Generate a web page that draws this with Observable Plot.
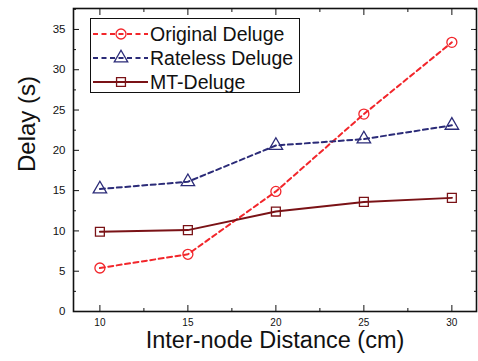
<!DOCTYPE html>
<html>
<head>
<meta charset="utf-8">
<script src="https://cdn.jsdelivr.net/npm/d3@7"></script>
<script src="https://cdn.jsdelivr.net/npm/@observablehq/plot@0.6"></script>
<style>
  html, body { margin: 0; padding: 0; background: #fff; }
  #wrap { position: relative; width: 478px; height: 361px; font-family: "Liberation Sans", Arial, sans-serif; }
  #legend { position: absolute; left: 90px; top: 18px; width: 210px; height: 75px; border: 1px solid #111; background: #fff; box-sizing: border-box; }
  .row { position: absolute; left: 0; height: 24px; display: flex; align-items: center; }
  .row span { font-size: 19.5px; color: #111; margin-left: 1px; }
</style>
</head>
<body>
<div id="wrap"></div>
<script>
const distances = [10, 15, 20, 25, 30];
const originalDeluge = [5.4, 7.1, 14.9, 24.5, 33.4];
const ratelessDeluge = [15.2, 16.1, 20.6, 21.4, 23.1];
const mtDeluge = [9.9, 10.1, 12.4, 13.6, 14.1];
const seriesNames = ["Original Deluge", "Rateless Deluge", "MT-Deluge"];
const seriesColors = ["#f2262b", "#2b2b78", "#7a1216"];
const seriesSymbols = ["circle", "triangle", "square"];
const seriesDash = ["5,3.5", "5,3.5", null];
const yMajor = [0, 5, 10, 15, 20, 25, 30, 35];
const yMinor = [2.5, 7.5, 12.5, 17.5, 22.5, 27.5, 32.5, 37.5];
const xMajor = [10, 15, 20, 25, 30];
const xMinor = [12.5, 17.5, 22.5, 27.5];

const seriesValues = [originalDeluge, ratelessDeluge, mtDeluge];
const rows = [];
seriesNames.forEach((name, i) => {
  distances.forEach((d, j) => rows.push({series: name, x: d, y: seriesValues[i][j]}));
});

const lineMarks = seriesNames.map((name, i) =>
  Plot.line(rows.filter(r => r.series === name), {
    x: "x", y: "y", stroke: seriesColors[i], strokeWidth: 2,
    strokeDasharray: seriesDash[i] || undefined
  })
);
const dotMarks = seriesNames.map((name, i) =>
  Plot.dot(rows.filter(r => r.series === name), {
    x: "x", y: "y", stroke: seriesColors[i], fill: "none", strokeWidth: 1.3,
    symbol: seriesSymbols[i], r: 5
  })
);

const empty = () => "";
const chart = Plot.plot({
  width: 478,
  height: 361,
  marginLeft: 73,
  marginRight: 2,
  marginTop: 8,
  marginBottom: 50,
  style: { fontFamily: "Liberation Sans, Arial, sans-serif", fontSize: "11px", color: "#111", background: "#fff" },
  x: { domain: [8.5, 31.4] },
  y: { domain: [0, 37.6] },
  marks: [
    Plot.axisY({ anchor: "left", ticks: yMajor, tickSize: -6, tickPadding: 14, label: null, fontSize: 11.5 }),
    Plot.axisY({ anchor: "left", ticks: yMinor, tickSize: -3, tickFormat: empty, label: null }),
    Plot.axisY({ anchor: "right", ticks: yMajor, tickSize: -6, tickFormat: empty, label: null }),
    Plot.axisY({ anchor: "right", ticks: yMinor, tickSize: -3, tickFormat: empty, label: null }),
    Plot.axisX({ anchor: "bottom", ticks: xMajor, tickSize: -6, tickPadding: 13, label: null, fontSize: 10 }),
    Plot.axisX({ anchor: "bottom", ticks: xMinor, tickSize: -3, tickFormat: empty, label: null }),
    Plot.axisX({ anchor: "top", ticks: xMajor, tickSize: -6, tickFormat: empty, label: null }),
    Plot.axisX({ anchor: "top", ticks: xMinor, tickSize: -3, tickFormat: empty, label: null }),
    Plot.frame({ stroke: "#111", strokeWidth: 1.6 }),
    ...lineMarks,
    ...dotMarks,
    Plot.text(["Inter-node Distance (cm)"], { frameAnchor: "bottom", dy: 36, text: d => d, fontSize: 23.5, fill: "#111" }),
    Plot.text(["Delay (s)"], { frameAnchor: "left", dx: -46, dy: 12, rotate: -90, text: d => d, fontSize: 24, fill: "#111" })
  ]
});

const wrap = document.getElementById("wrap");
wrap.appendChild(chart);

const legend = document.createElement("div");
legend.id = "legend";
const rowTops = [3, 27, 51];
seriesNames.forEach((name, i) => {
  const row = document.createElement("div");
  row.className = "row";
  row.style.top = rowTops[i] + "px";
  const ns = "http://www.w3.org/2000/svg";
  const svg = document.createElementNS(ns, "svg");
  svg.setAttribute("width", 58);
  svg.setAttribute("height", 24);
  const line = document.createElementNS(ns, "line");
  line.setAttribute("x1", 2); line.setAttribute("x2", 57);
  line.setAttribute("y1", 12); line.setAttribute("y2", 12);
  line.setAttribute("stroke", seriesColors[i]);
  line.setAttribute("stroke-width", 2);
  if (seriesDash[i]) line.setAttribute("stroke-dasharray", seriesDash[i]);
  svg.appendChild(line);
  const sym = document.createElementNS(ns, "path");
  const sz = Math.PI * 25;
  const symType = { circle: d3.symbolCircle, triangle: d3.symbolTriangle, square: d3.symbolSquare }[seriesSymbols[i]];
  sym.setAttribute("d", d3.symbol(symType, sz)());
  sym.setAttribute("transform", "translate(30,12)");
  sym.setAttribute("fill", "none");
  sym.setAttribute("stroke", seriesColors[i]);
  sym.setAttribute("stroke-width", 1.3);
  svg.appendChild(sym);
  row.appendChild(svg);
  const label = document.createElement("span");
  label.textContent = name;
  row.appendChild(label);
  legend.appendChild(row);
});
wrap.appendChild(legend);
</script>
</body>
</html>
